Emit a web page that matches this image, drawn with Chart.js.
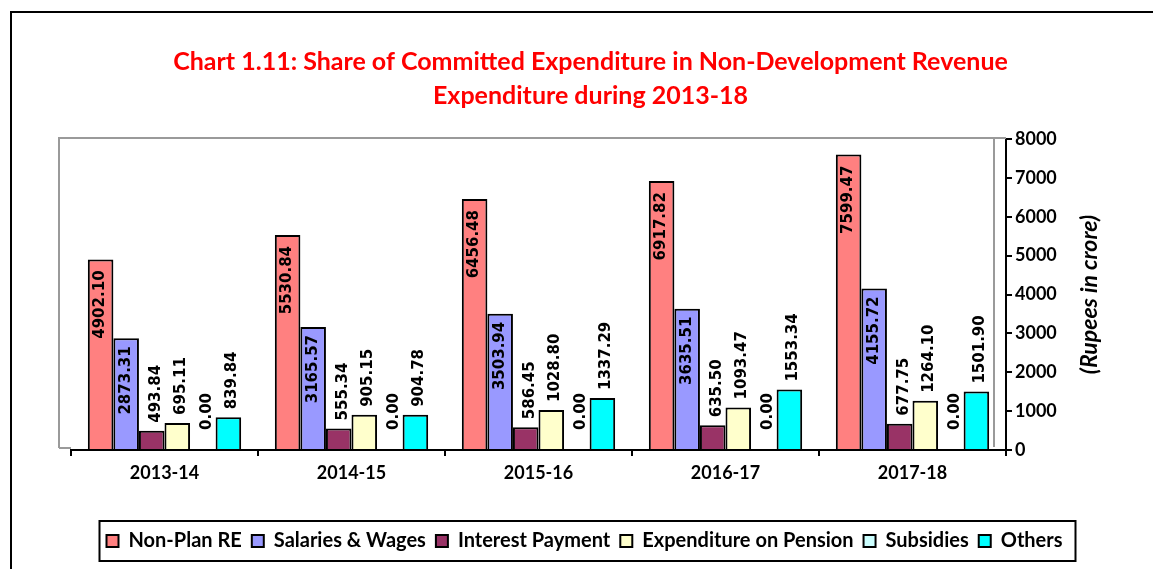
<!DOCTYPE html>
<html><head><meta charset="utf-8">
<script src="https://cdn.jsdelivr.net/npm/chart.js@4.4.0/dist/chart.umd.min.js"></script>
<style>
html,body{margin:0;padding:0;background:#fff;overflow:hidden}
#frame{position:absolute;left:10px;top:11px;width:1300px;height:700px;border-left:2px solid #000;border-top:2px solid #000}
#wrap{position:absolute;left:0;top:0;width:1153px;height:569px}
</style></head><body>
<div id="frame"></div>
<div id="wrap"><canvas id="c" width="1153" height="569"></canvas></div>
<script>
const categories = ['2013-14', '2014-15', '2015-16', '2016-17', '2017-18'];
const nonPlanRE = [4902.10, 5530.84, 6456.48, 6917.82, 7599.47];
const salariesWages = [2873.31, 3165.57, 3503.94, 3635.51, 4155.72];
const interestPayment = [493.84, 555.34, 586.45, 635.50, 677.75];
const pensionExpenditure = [695.11, 905.15, 1028.80, 1093.47, 1264.10];
const subsidies = [0.00, 0.00, 0.00, 0.00, 0.00];
const others = [839.84, 904.78, 1337.29, 1553.34, 1501.90];
const seriesNames = ['Non-Plan RE', 'Salaries & Wages', 'Interest Payment', 'Expenditure on Pension', 'Subsidies', 'Others'];
const seriesColors = ['#FF8080', '#9999FF', '#993366', '#FFFFCC', '#CCFFFF', '#00FFFF'];
const yMin = 0, yMax = 8000, yStep = 1000;
const titleLines = ['Chart 1.11: Share of Committed Expenditure in Non-Development Revenue', 'Expenditure during 2013-18'];
const yAxisTitle = '(Rupees in crore)';

const seriesValues = [nonPlanRE, salariesWages, interestPayment, pensionExpenditure, subsidies, others];
const FONT = 'Lato';

const shiftPlugin = {
  id: 'shiftBlocks',
  afterLayout(chart) {
    const t = chart.titleBlock;
    if (t) { t.left += 22; t.right += 22; }
    const l = chart.legend;
    if (l) { l.left += 16; l.right += 16; }
  }
};

const wallPlugin = {
  id: 'wall',
  beforeDatasetsDraw(chart) {
    const ca = chart.chartArea, ctx = chart.ctx;
    ctx.save();
    ctx.strokeStyle = '#9a9a9a';
    ctx.lineWidth = 2;
    ctx.beginPath();
    ctx.moveTo(ca.left - 12, ca.bottom - 2);
    ctx.lineTo(ca.left - 12, ca.top - 1);
    ctx.lineTo(ca.right, ca.top - 1);
    ctx.moveTo(ca.left - 12, ca.bottom - 2);
    ctx.lineTo(ca.left, ca.bottom - 2);
    ctx.moveTo(ca.right - 12, ca.top);
    ctx.lineTo(ca.right - 12, ca.bottom - 3);
    ctx.stroke();
    ctx.restore();
  }
};

const labelPlugin = {
  id: 'valueLabels',
  afterDatasetsDraw(chart) {
    const ctx = chart.ctx;
    chart.data.datasets.forEach((ds, di) => {
      const meta = chart.getDatasetMeta(di);
      meta.data.forEach((bar, i) => {
        const v = ds.data[i];
        const txt = v.toFixed(2);
        ctx.save();
        ctx.font = 'bold 15px "DejaVu Sans"';
        ctx.fillStyle = '#000';
        ctx.textBaseline = 'middle';
        if (di < 2) {
          ctx.translate(bar.x, bar.y + (di === 0 ? 11 : 8));
          ctx.rotate(-Math.PI / 2);
          ctx.textAlign = 'right';
        } else {
          ctx.translate(bar.x + 4, bar.y - (v === 0 ? 20 : 8));
          ctx.rotate(-Math.PI / 2);
          ctx.textAlign = 'left';
        }
        ctx.fillText(txt, 0, 0);
        ctx.restore();
      });
    });
  },
  afterDraw(chart) {
    const ctx = chart.ctx, ca = chart.chartArea;
    ctx.save();
    ctx.font = 'italic bold 23px ' + FONT;
    ctx.fillStyle = '#000';
    ctx.textAlign = 'center';
    ctx.textBaseline = 'middle';
    ctx.translate(1090, (ca.top + ca.bottom) / 2);
    ctx.rotate(-Math.PI / 2);
    ctx.fillText(yAxisTitle, 0, 0);
    ctx.restore();
    const hb = chart.legend.legendHitBoxes;
    if (hb && hb.length) {
      let minX = Infinity, maxX = -Infinity, cy = 0;
      hb.forEach(h => { minX = Math.min(minX, h.left); maxX = Math.max(maxX, h.left + h.width); cy = h.top + h.height / 2; });
      ctx.save();
      ctx.strokeStyle = '#000';
      ctx.lineWidth = 2;
      ctx.strokeRect(minX - 7, cy - 20, (maxX - minX) + 20, 40);
      ctx.restore();
    }
  }
};

new Chart(document.getElementById('c'), {
  type: 'bar',
  data: {
    labels: categories,
    datasets: seriesValues.map((vals, k) => ({
      label: seriesNames[k],
      data: vals,
      backgroundColor: seriesColors[k],
      borderColor: '#000',
      borderWidth: 2,
      categoryPercentage: 0.82,
      barPercentage: 1.0
    }))
  },
  options: {
    responsive: false,
    animation: false,
    devicePixelRatio: 1,
    layout: { padding: { left: 71, right: 87, top: 0, bottom: 8 } },
    plugins: {
      title: {
        display: true,
        text: titleLines,
        color: '#FF0000',
        font: { family: FONT, size: 25, weight: 'bold', lineHeight: 1.36 },
        padding: { top: 45, bottom: 26 }
      },
      legend: {
        position: 'bottom',
        labels: {
          boxWidth: 12, boxHeight: 12, padding: 10, color: '#000',
          font: { family: FONT, size: 20, weight: 'bold', lineHeight: 1.1 }
        }
      },
      tooltip: { enabled: false }
    },
    scales: {
      x: {
        grid: { offset: true, drawOnChartArea: false, color: '#000', lineWidth: 2, tickLength: 6 },
        border: { color: '#000', width: 2 },
        ticks: { color: '#000', font: { family: FONT, size: 18, weight: 'bold' }, padding: 6, maxRotation: 0 },
        afterFit(s) { s.height = 71; }
      },
      y: {
        position: 'right',
        min: yMin, max: yMax,
        ticks: { stepSize: yStep, color: '#000', font: { family: FONT, size: 18, weight: 'bold' }, padding: 3,
          callback: (v) => String(v) },
        grid: { drawOnChartArea: false, color: '#000', lineWidth: 2, tickLength: 6 },
        border: { color: '#000', width: 2 },
        afterFit(s) { s.width = 60; }
      }
    }
  },
  plugins: [shiftPlugin, wallPlugin, labelPlugin]
});
</script>
</body></html>
